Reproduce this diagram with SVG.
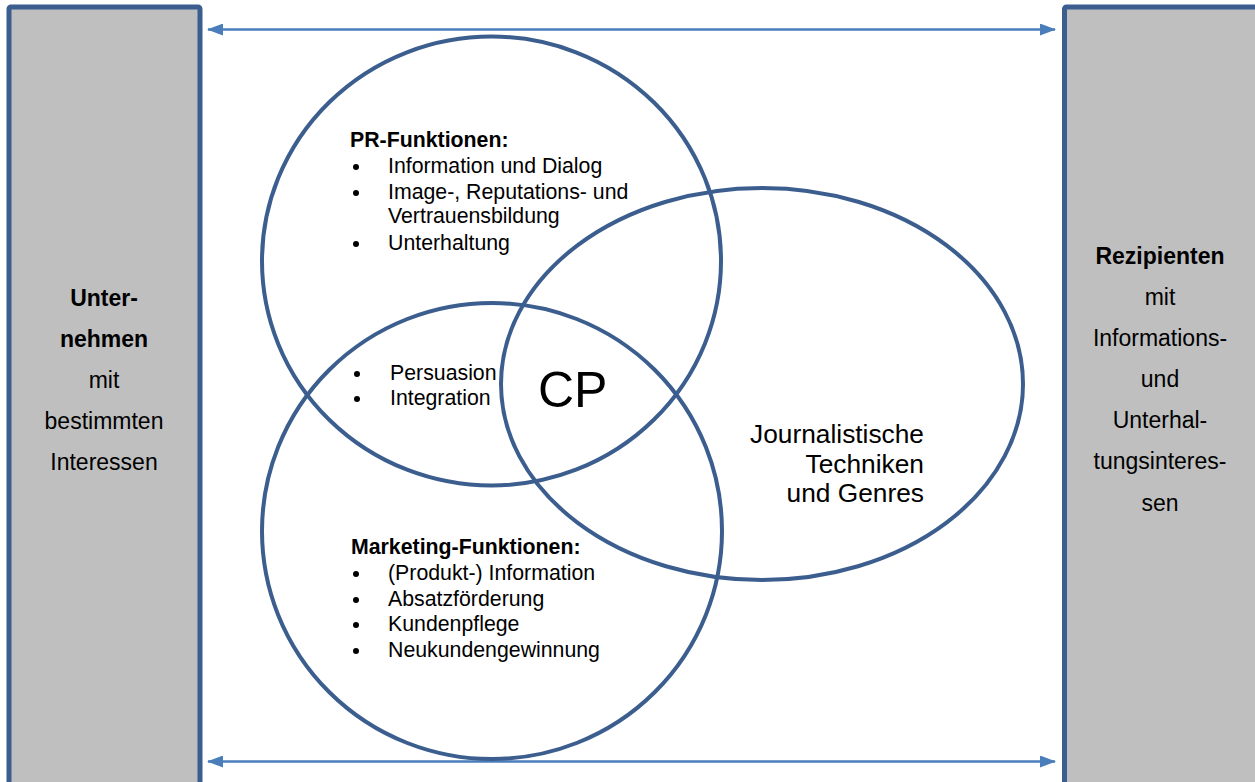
<svg xmlns="http://www.w3.org/2000/svg" width="1255" height="782" viewBox="0 0 1255 782">
  <style>
    .box { fill: #bfbfbf; stroke: #3b5e8f; stroke-width: 5; }
    .ring { fill: none; stroke: #3b5e8f; stroke-width: 4; }
    .link { stroke: #4a7ebb; stroke-width: 2.5; fill: none; }
    .dot { fill: #000; }
    text { font-family: "Liberation Sans", Arial, sans-serif; fill: #000; }
    .side { font-size: 23px; text-anchor: middle; }
    .list { font-size: 21.3px; }
    .b { font-weight: bold; }
  </style>
  <defs>
    <marker id="head" viewBox="0 0 16 12" refX="15" refY="6" markerWidth="16" markerHeight="12" markerUnits="userSpaceOnUse" orient="auto-start-reverse">
      <path d="M0,0 L16,6 L0,12 Z" fill="#4a7ebb"/>
    </marker>
  </defs>
  <rect width="1255" height="782" fill="#ffffff"/>

  <g id="connectors">
    <line class="link" x1="208" y1="29.5" x2="1055" y2="29.5" marker-start="url(#head)" marker-end="url(#head)"/>
    <line class="link" x1="208" y1="761.5" x2="1055" y2="761.5" marker-start="url(#head)" marker-end="url(#head)"/>
  </g>

  <g id="unternehmen">
    <rect class="box" x="9" y="7" width="191" height="800" rx="2"/>
    <text class="side b" x="104" y="306">Unter-</text>
    <text class="side b" x="104" y="347">nehmen</text>
    <text class="side" x="104" y="388">mit</text>
    <text class="side" x="104" y="429">bestimmten</text>
    <text class="side" x="104" y="470">Interessen</text>
  </g>

  <g id="rezipienten">
    <rect class="box" x="1064.5" y="7" width="220" height="800" rx="2"/>
    <text class="side b" x="1160" y="264">Rezipienten</text>
    <text class="side" x="1160" y="305">mit</text>
    <text class="side" x="1160" y="346">Informations-</text>
    <text class="side" x="1160" y="387">und</text>
    <text class="side" x="1160" y="428">Unterhal-</text>
    <text class="side" x="1160" y="469">tungsinteres-</text>
    <text class="side" x="1160" y="511">sen</text>
  </g>

  <g id="pr-funktionen">
    <ellipse class="ring" cx="491.5" cy="261" rx="229.5" ry="224.5"/>
    <text class="list b" x="350" y="147">PR-Funktionen:</text>
    <circle class="dot" cx="356" cy="167" r="3"/>
    <text class="list" x="388" y="173">Information und Dialog</text>
    <circle class="dot" cx="356" cy="193" r="3"/>
    <text class="list" x="388" y="199">Image-, Reputations- und</text>
    <text class="list" x="388" y="223">Vertrauensbildung</text>
    <circle class="dot" cx="356" cy="244" r="3"/>
    <text class="list" x="388" y="250">Unterhaltung</text>
  </g>

  <g id="marketing-funktionen">
    <ellipse class="ring" cx="492" cy="531" rx="230" ry="228"/>
    <text class="list b" x="351" y="554">Marketing-Funktionen:</text>
    <circle class="dot" cx="356" cy="574" r="3"/>
    <text class="list" x="388" y="580">(Produkt-) Information</text>
    <circle class="dot" cx="356" cy="600" r="3"/>
    <text class="list" x="388" y="606">Absatzförderung</text>
    <circle class="dot" cx="356" cy="625" r="3"/>
    <text class="list" x="388" y="631">Kundenpflege</text>
    <circle class="dot" cx="356" cy="651" r="3"/>
    <text class="list" x="388" y="657">Neukundengewinnung</text>
  </g>

  <g id="journalismus">
    <ellipse class="ring" cx="762" cy="384" rx="261" ry="196"/>
    <text x="924" y="443" font-size="26.3" text-anchor="end">Journalistische</text>
    <text x="924" y="473" font-size="26.3" text-anchor="end">Techniken</text>
    <text x="924" y="502" font-size="26.3" text-anchor="end">und Genres</text>
  </g>

  <g id="schnittmenge">
    <circle class="dot" cx="357" cy="374" r="3"/>
    <text class="list" x="390" y="380">Persuasion</text>
    <circle class="dot" cx="357" cy="399" r="3"/>
    <text class="list" x="390" y="405">Integration</text>
    <text x="538" y="407" font-size="50">CP</text>
  </g>
</svg>
